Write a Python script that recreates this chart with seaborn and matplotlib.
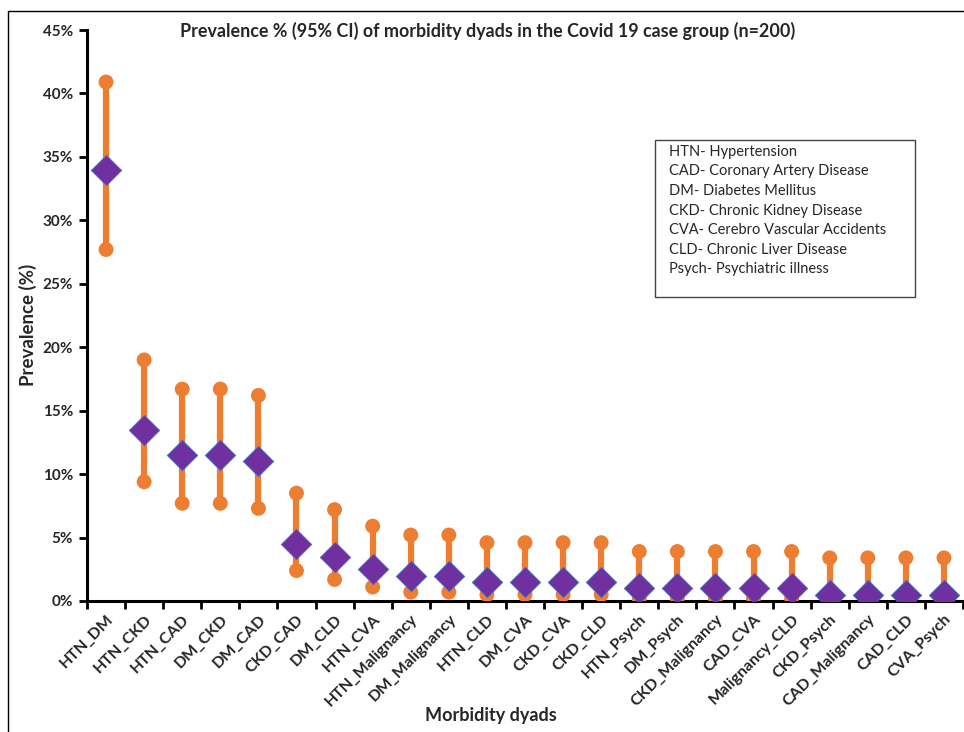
import matplotlib
matplotlib.use("Agg")
import matplotlib.pyplot as plt
import matplotlib.ticker as mtick
import pandas as pd
import seaborn as sns

# values (percent)
dyads = ["HTN_DM", "HTN_CKD", "HTN_CAD", "DM_CKD", "DM_CAD", "CKD_CAD", "DM_CLD",
         "HTN_CVA", "HTN_Malignancy", "DM_Malignancy", "HTN_CLD", "DM_CVA", "CKD_CVA",
         "CKD_CLD", "HTN_Psych", "DM_Psych", "CKD_Malignancy", "CAD_CVA",
         "Malignancy_CLD", "CKD_Psych", "CAD_Malignancy", "CAD_CLD", "CVA_Psych"]
prevalence = [34.0, 13.5, 11.5, 11.5, 11.0, 4.5, 3.5, 2.5, 2.0, 2.0, 1.5, 1.5, 1.5,
              1.5, 1.0, 1.0, 1.0, 1.0, 1.0, 0.5, 0.5, 0.5, 0.5]
ci_low = [27.7, 9.4, 7.7, 7.7, 7.3, 2.4, 1.7, 1.1, 0.7, 0.7, 0.5, 0.5, 0.5,
          0.5, 0.2, 0.2, 0.2, 0.2, 0.2, 0.1, 0.1, 0.1, 0.1]
ci_high = [40.9, 19.0, 16.7, 16.7, 16.2, 8.5, 7.2, 5.9, 5.2, 5.2, 4.6, 4.6, 4.6,
           4.6, 3.9, 3.9, 3.9, 3.9, 3.9, 3.4, 3.4, 3.4, 3.4]
abbrev = ["HTN- Hypertension", "CAD- Coronary Artery Disease", "DM- Diabetes Mellitus",
          "CKD- Chronic Kidney Disease", "CVA- Cerebro Vascular Accidents",
          "CLD- Chronic Liver Disease", "Psych- Psychiatric illness"]

df = pd.DataFrame({"dyad": dyads, "prev": prevalence, "lo": ci_low, "hi": ci_high})
df["x"] = range(len(df))
ends = pd.concat([df[["x", "lo"]].rename(columns={"lo": "y"}),
                  df[["x", "hi"]].rename(columns={"hi": "y"})])

sns.set_theme(style="white")
plt.rcParams["font.family"] = ["Lato", "DejaVu Sans"]

orange = "#ED7D31"
purple = "#7030A0"

fig = plt.figure(figsize=(9.64, 7.32), dpi=100)
ax = fig.add_axes([87 / 964, 1 - 601 / 732, 876 / 964, 571 / 732])

ax.vlines(df["x"], df["lo"], df["hi"], color=orange, linewidth=4.5, zorder=2)
sns.scatterplot(data=ends, x="x", y="y", color=orange, s=115, edgecolor="none",
                ax=ax, zorder=3, legend=False)
sns.scatterplot(data=df, x="x", y="prev", marker="D", color=purple, s=240,
                edgecolor="#4472C4", linewidth=0.6, ax=ax, zorder=4, legend=False)

ax.set_xlim(-0.5, len(dyads) - 0.5)
ax.set_ylim(0, 45)
ax.yaxis.set_major_locator(mtick.MultipleLocator(5))
ax.yaxis.set_major_formatter(mtick.FormatStrFormatter("%d%%"))
ax.set_xticks(df["x"])
ax.set_xticklabels(dyads, rotation=45, ha="right", rotation_mode="anchor",
                   fontsize=11.5, fontweight="bold")
ax.set_xticks([i - 0.5 for i in range(len(dyads) + 1)], minor=True)
ax.tick_params(axis="x", which="major", length=0, pad=8)
ax.tick_params(axis="x", which="minor", length=6, width=2, color="black",
               direction="out", bottom=True)
ax.tick_params(axis="y", length=6, width=2, color="black", direction="out", left=True,
               pad=4)
for lab in ax.get_yticklabels():
    lab.set_fontsize(11)
    lab.set_fontweight("bold")

sns.despine(ax=ax)
for side in ["left", "bottom"]:
    ax.spines[side].set_linewidth(2.2)
    ax.spines[side].set_color("black")

ax.set_xlabel("Morbidity dyads", fontsize=13, fontweight="bold")
ax.set_ylabel("Prevalence (%)", fontsize=13.5, fontweight="bold")
ax.xaxis.set_label_coords((491 - 87) / 876, (601 - 716) / 571)
ax.yaxis.set_label_coords((28 - 87) / 876, (601 - 325) / 571)
ax.xaxis.label.set_va("center")
ax.yaxis.label.set_va("center")
fig.text(488 / 964, 1 - 31 / 732,
         "Prevalence % (95% CI) of morbidity dyads in the Covid 19 case group (n=200)",
         ha="center", va="center", fontsize=12.9, fontweight="bold")

# abbreviation box
fig.text(669 / 964, 1 - 145 / 732, "\n".join(abbrev),
         ha="left", va="top", fontsize=10.5, linespacing=1.5)
fig.add_artist(plt.Rectangle((655 / 964, 1 - 297 / 732), 260 / 964, 157 / 732,
                             transform=fig.transFigure, fill=False,
                             edgecolor="#444444", linewidth=1))

# outer frame of the figure panel
fig.add_artist(plt.Line2D([8 / 964, 8 / 964], [0, 1 - 11 / 732],
                          transform=fig.transFigure, color="black", linewidth=1))
fig.add_artist(plt.Line2D([8 / 964, 1], [1 - 11 / 732, 1 - 11 / 732],
                          transform=fig.transFigure, color="black", linewidth=1))

fig.savefig("out.png", dpi=100)
